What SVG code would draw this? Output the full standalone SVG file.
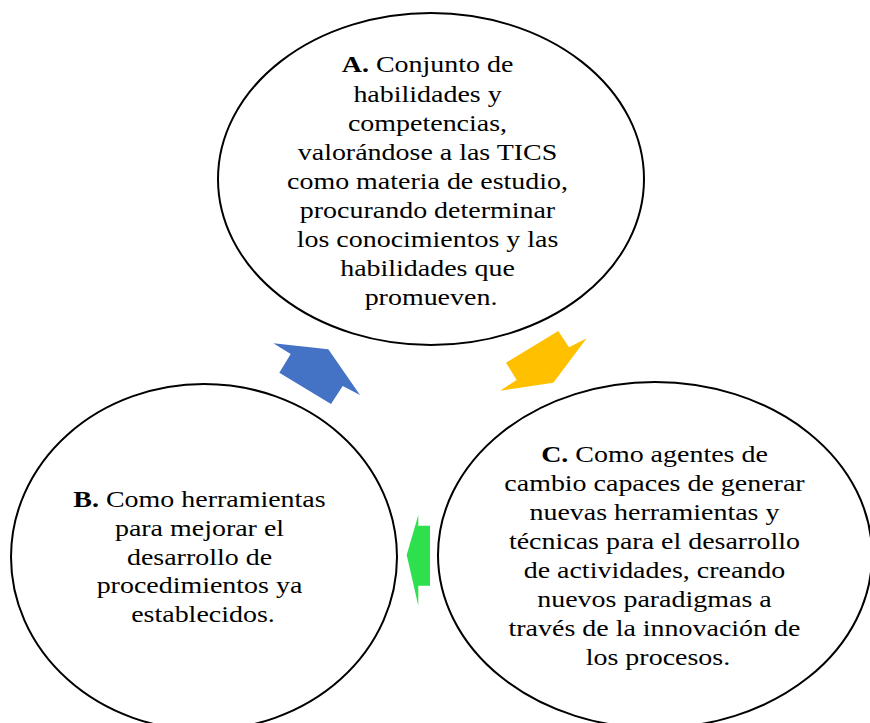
<svg xmlns="http://www.w3.org/2000/svg" width="870" height="723" viewBox="0 0 870 723">
<style>
.node{fill:#fff;stroke:#000;stroke-width:2}
.t{font-family:"Liberation Serif","Times New Roman",serif;font-size:24px;fill:#000;text-anchor:middle}
.b{font-weight:bold}
</style>
<rect width="870" height="723" fill="#fff"/>
<g id="connectors">
<polygon fill="#4472C4" points="273.3,343.3 328.3,349.3 360,395 342.7,386 331,404 279.3,372.7 290.7,354"/>
<polygon fill="#FFC000" points="558.3,331 569,347.3 586.7,338.3 553.3,382.7 500,390.7 516.7,380 506,362.7"/>
<polygon fill="#2EE04E" points="418.3,515 418.3,525.7 430,525.7 430,585.7 418.3,585.7 418.3,605.7 406.7,555"/>
</g>
<g id="nodeA">
<ellipse class="node" cx="431" cy="179" rx="213" ry="166"/>
<text class="t" transform="matrix(1.165 0 0 1 -71.1 0)">
<tspan x="431" y="72.5"><tspan class="b">A.</tspan> Conjunto de</tspan>
<tspan x="431" y="101.6">habilidades y</tspan>
<tspan x="431" y="130.7">competencias,</tspan>
<tspan x="431" y="159.8">valorándose a las TICS</tspan>
<tspan x="431" y="188.9">como materia de estudio,</tspan>
<tspan x="431" y="218">procurando determinar</tspan>
<tspan x="431" y="247.1">los conocimientos y las</tspan>
<tspan x="431" y="276.2">habilidades que</tspan>
<tspan x="431" y="305.3">promueven.</tspan>
</text>
</g>
<g id="nodeB">
<ellipse class="node" cx="204" cy="557" rx="193" ry="173"/>
<text class="t" transform="matrix(1.165 0 0 1 -33.5 0)">
<tspan x="203" y="507"><tspan class="b">B.</tspan> Como herramientas</tspan>
<tspan x="203" y="536">para mejorar el</tspan>
<tspan x="203" y="565">desarrollo de</tspan>
<tspan x="203" y="593.5">procedimientos ya</tspan>
<tspan x="203" y="622">establecidos.</tspan>
</text>
</g>
<g id="nodeC">
<ellipse class="node" cx="655" cy="555" rx="217" ry="173"/>
<text class="t" transform="matrix(1.165 0 0 1 -108.6 0)">
<tspan x="658" y="462"><tspan class="b">C.</tspan> Como agentes de</tspan>
<tspan x="658" y="491">cambio capaces de generar</tspan>
<tspan x="658" y="520">nuevas herramientas y</tspan>
<tspan x="658" y="549">técnicas para el desarrollo</tspan>
<tspan x="658" y="578">de actividades, creando</tspan>
<tspan x="658" y="607">nuevos paradigmas a</tspan>
<tspan x="658" y="636">través de la innovación de</tspan>
<tspan x="658" y="665">los procesos.</tspan>
</text>
</g>
</svg>
